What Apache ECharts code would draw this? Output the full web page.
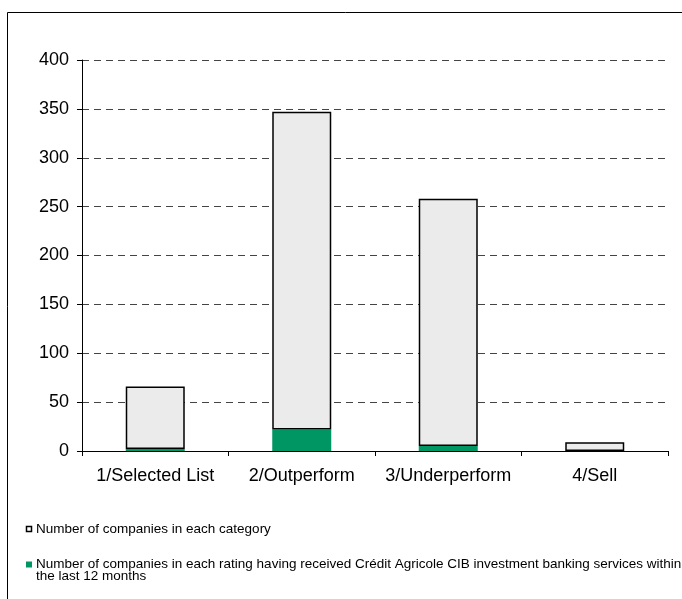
<!DOCTYPE html>
<html>
<head>
<meta charset="utf-8">
<script src="https://cdn.jsdelivr.net/npm/echarts@6/dist/echarts.min.js"></script>
<style>
  html, body { margin: 0; padding: 0; background: #fff; }
  #chart { width: 682px; height: 599px; }
</style>
</head>
<body>
<div id="chart"></div>
<script>
// Rating categories
const categories = ['1/Selected List', '2/Outperform', '3/Underperform', '4/Sell'];
// Number of companies in each category
const totalCompanies = [66, 347, 258, 9];
// Companies in each rating that received investment banking services
const ibCompanies = [2, 22, 5, 0];
// Y-axis ticks
const yTicks = [0, 50, 100, 150, 200, 250, 300, 350, 400];

const seriesNames = [
  'Number of companies in each category',
  'Number of companies in each rating having received Crédit Agricole CIB investment banking services within\nthe last 12 months'
];

const GREEN = '#009664';
const GREY = '#EAEBEA';
const FONT = '"Liberation Sans", Arial, sans-serif';

// The grey block sits on top of the green block, so its height is the remainder
const remainder = totalCompanies.map((t, i) => t - ibCompanies[i]);

const chart = echarts.init(document.getElementById('chart'), null, { renderer: 'canvas' });

chart.setOption({
  animation: false,
  backgroundColor: '#fff',
  grid: { left: 82, right: 14, top: 60, bottom: 148, containLabel: false },
  xAxis: {
    type: 'category',
    data: categories,
    axisLine: { lineStyle: { color: '#000', width: 1 } },
    axisTick: { show: true, length: 5, lineStyle: { color: '#000' } },
    axisLabel: { color: '#000', fontFamily: FONT, fontSize: 18, margin: 16, interval: 0 }
  },
  yAxis: {
    type: 'value',
    min: yTicks[0],
    max: yTicks[yTicks.length - 1],
    interval: 50,
    axisLine: { show: true, lineStyle: { color: '#000', width: 1 } },
    axisTick: { show: true, length: 5, lineStyle: { color: '#000' } },
    axisLabel: { color: '#000', fontFamily: FONT, fontSize: 18, margin: 13 },
    splitLine: {
      show: true,
      lineStyle: { color: '#444', type: [7, 5], width: 1 }
    }
  },
  series: [
    {
      name: seriesNames[1],
      type: 'bar',
      stack: 'ratings',
      barWidth: 59,
      data: ibCompanies,
      itemStyle: { color: GREEN, borderWidth: 0 },
      z: 2
    },
    {
      name: seriesNames[0],
      type: 'bar',
      stack: 'ratings',
      barWidth: 59,
      data: remainder,
      itemStyle: { color: GREY, borderColor: '#000', borderWidth: 1.5 },
      z: 3
    }
  ],
  graphic: [
    // outer frame (right and bottom edges fall outside the canvas)
    {
      type: 'rect',
      shape: { x: 7.5, y: 12.5, width: 800, height: 700 },
      style: { fill: 'none', stroke: '#000', lineWidth: 1 },
      silent: true
    },
    // legend: total companies
    {
      type: 'rect',
      shape: { x: 26.5, y: 526.5, width: 5, height: 5 },
      style: { fill: '#fff', stroke: '#000', lineWidth: 1.5 }
    },
    {
      type: 'text',
      x: 36, y: 529,
      style: {
        text: seriesNames[0],
        font: '13.5px ' + FONT,
        fill: '#000',
        verticalAlign: 'middle'
      }
    },
    // legend: investment banking services
    {
      type: 'rect',
      shape: { x: 26, y: 561.5, width: 6, height: 6 },
      style: { fill: GREEN, stroke: 'none' }
    },
    {
      type: 'text',
      x: 36, y: 558,
      style: {
        text: seriesNames[1],
        font: '13.5px ' + FONT,
        fill: '#000',
        lineHeight: 12,
        verticalAlign: 'top'
      }
    }
  ]
});
</script>
</body>
</html>
